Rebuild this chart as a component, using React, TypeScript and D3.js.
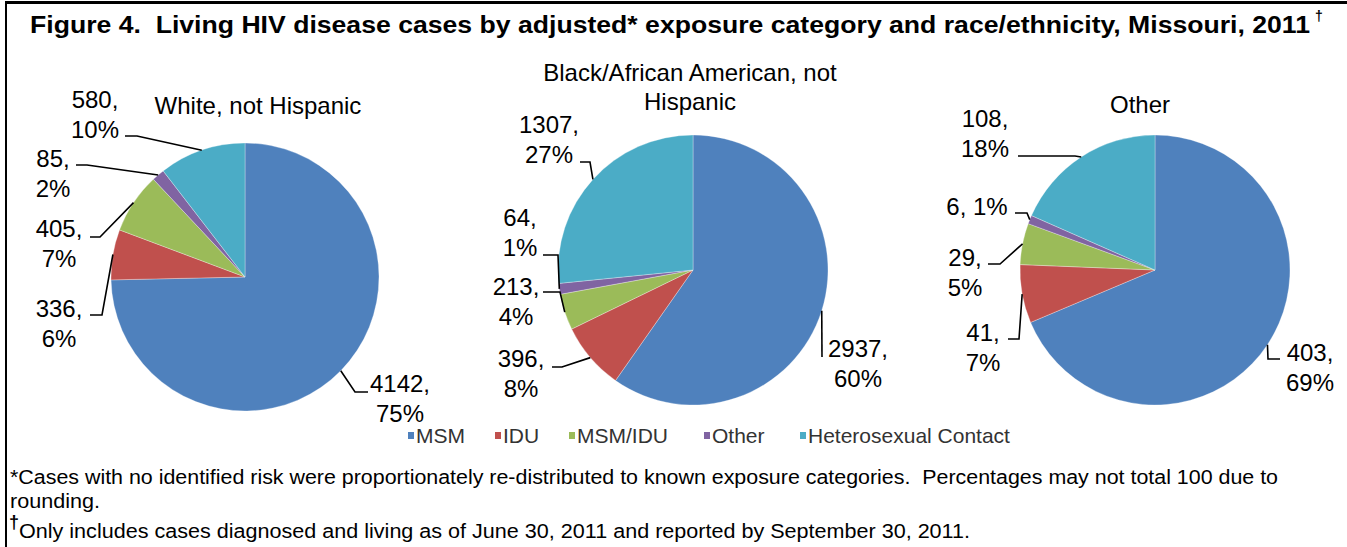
import * as d3 from "d3";

const categories = ["MSM", "IDU", "MSM/IDU", "Other", "Heterosexual Contact"];
const sliceColors = ["#4F81BD", "#C0504D", "#9BBB59", "#8064A2", "#4BACC6"];

const groupTitles = [
  ["White, not Hispanic"],
  ["Black/African American, not", "Hispanic"],
  ["Other"],
];
const whiteCases = [4142, 336, 405, 85, 580];
const blackCases = [2937, 396, 213, 64, 1307];
const otherCases = [403, 41, 29, 6, 108];
const groupCases = [whiteCases, blackCases, otherCases];

const titleText =
  "Figure 4.  Living HIV disease cases by adjusted* exposure category and race/ethnicity, Missouri, 2011";
const note1 =
  "*Cases with no identified risk were proportionately re-distributed to known exposure categories.  Percentages may not total 100 due to";
const note2 = "rounding.";
const note3 = "Only includes cases diagnosed and living as of June 30, 2011 and reported by September 30, 2011.";

// layout
const pieCenters = [[245, 277], [693, 270], [1155, 270]];
const pieRadius = [134, 135, 135];
const titlePos = [[258, 105], [690, 72], [1140, 104]];
// per slice: text x, first line y, elbow x, elbow y, end x
const labelLayout = [
  [[400, 383, 355, 392, 368], [59, 308, 102, 315, 90], [59, 228, 100, 237, 90], [53, 158, 87, 165, 76], [95, 99, 137, 136, 125]],
  [[858, 348, 822, 357, 822], [521, 358, 562, 367, 552], [516, 286, 560, 292, 543], [520, 217, 558, 255, 543], [549, 124, 590, 162, 580]],
  [[1310, 352, 1268, 359, 1280], [983, 332, 1019, 339, 1008], [965, 257, 1000, 264, 988], [977, 206, 1027, 213, 1015], [985, 118, 1075, 156, 1018]],
];
const singleLine = [[false, false, false, false, false], [false, false, false, false, false], [false, false, false, true, false]];
const legendX = [408, 495, 569, 704, 800];

const font = "'Liberation Sans', Arial, Helvetica, sans-serif";

export default function App() {
  const pie = d3.pie<number>().sort(null).value((d) => d);

  return (
    <svg width={1347} height={547} fontFamily={font} style={{ position: "absolute", left: 0, top: 0, background: "#fff" }}>
      <rect width={1347} height={547} fill="#fff" />
      <line x1={5} x2={1347} y1={2.5} y2={2.5} stroke="#000" strokeWidth={3} />
      <line x1={6} x2={6} y1={1} y2={547} stroke="#000" strokeWidth={2} />

      <text x={30} y={33} fontSize={23} fontWeight="bold" textLength={1280} lengthAdjust="spacingAndGlyphs" style={{ whiteSpace: "pre" }}>
        {titleText}
      </text>
      <text x={1315} y={21} fontSize={14} fontWeight="bold">†</text>

      {groupCases.map((cases, g) => {
        const [cx, cy] = pieCenters[g];
        const r = pieRadius[g];
        const total = d3.sum(cases);
        const slices = pie(cases);
        const arc = d3.arc<d3.PieArcDatum<number>>().innerRadius(0).outerRadius(r);
        const edge = d3.arc<d3.PieArcDatum<number>>().innerRadius(r).outerRadius(r);
        return (
          <g key={g}>
            <g transform={`translate(${cx},${cy})`}>
              {slices.map((s, i) => (
                <path key={i} d={arc(s) || ""} fill={sliceColors[i]} stroke="#fff" strokeOpacity={0.5} strokeWidth={0.6} />
              ))}
            </g>
            {groupTitles[g].map((t, k) => (
              <text key={k} x={titlePos[g][0]} y={titlePos[g][1] + k * 29} dy="0.36em" textAnchor="middle" fontSize={24}>
                {t}
              </text>
            ))}
            {slices.map((s, i) => {
              const [tx, ty, ex, ey, endX] = labelLayout[g][i];
              const c = edge.centroid(s);
              const p0: [number, number] = [cx + c[0], cy + c[1]];
              const leader = d3.line()([p0, [ex, ey], [endX, ey]]) || "";
              const pct = Math.round((cases[i] / total) * 100);
              const lines = singleLine[g][i] ? [`${cases[i]}, ${pct}%`] : [`${cases[i]},`, `${pct}%`];
              return (
                <g key={i}>
                  <path d={leader} fill="none" stroke="#000" strokeWidth={1.6} />
                  {lines.map((l, k) => (
                    <text key={k} x={tx} y={ty + k * 30} dy="0.36em" textAnchor="middle" fontSize={24}>
                      {l}
                    </text>
                  ))}
                </g>
              );
            })}
          </g>
        );
      })}

      {categories.map((c, i) => (
        <g key={c}>
          <rect x={legendX[i]} y={432} width={6} height={7} fill={sliceColors[i]} />
          <text x={legendX[i] + 8} y={443} fontSize={21} fill="#333">{c}</text>
        </g>
      ))}

      <text x={10} y={484} fontSize={20} textLength={1268} lengthAdjust="spacingAndGlyphs" style={{ whiteSpace: "pre" }}>
        {note1}
      </text>
      <text x={10} y={508} fontSize={20} textLength={90} lengthAdjust="spacingAndGlyphs">{note2}</text>
      <text x={9} y={528} fontSize={18} fontWeight="bold">†</text>
      <text x={19} y={538} fontSize={20} textLength={951} lengthAdjust="spacingAndGlyphs">{note3}</text>
    </svg>
  );
}
